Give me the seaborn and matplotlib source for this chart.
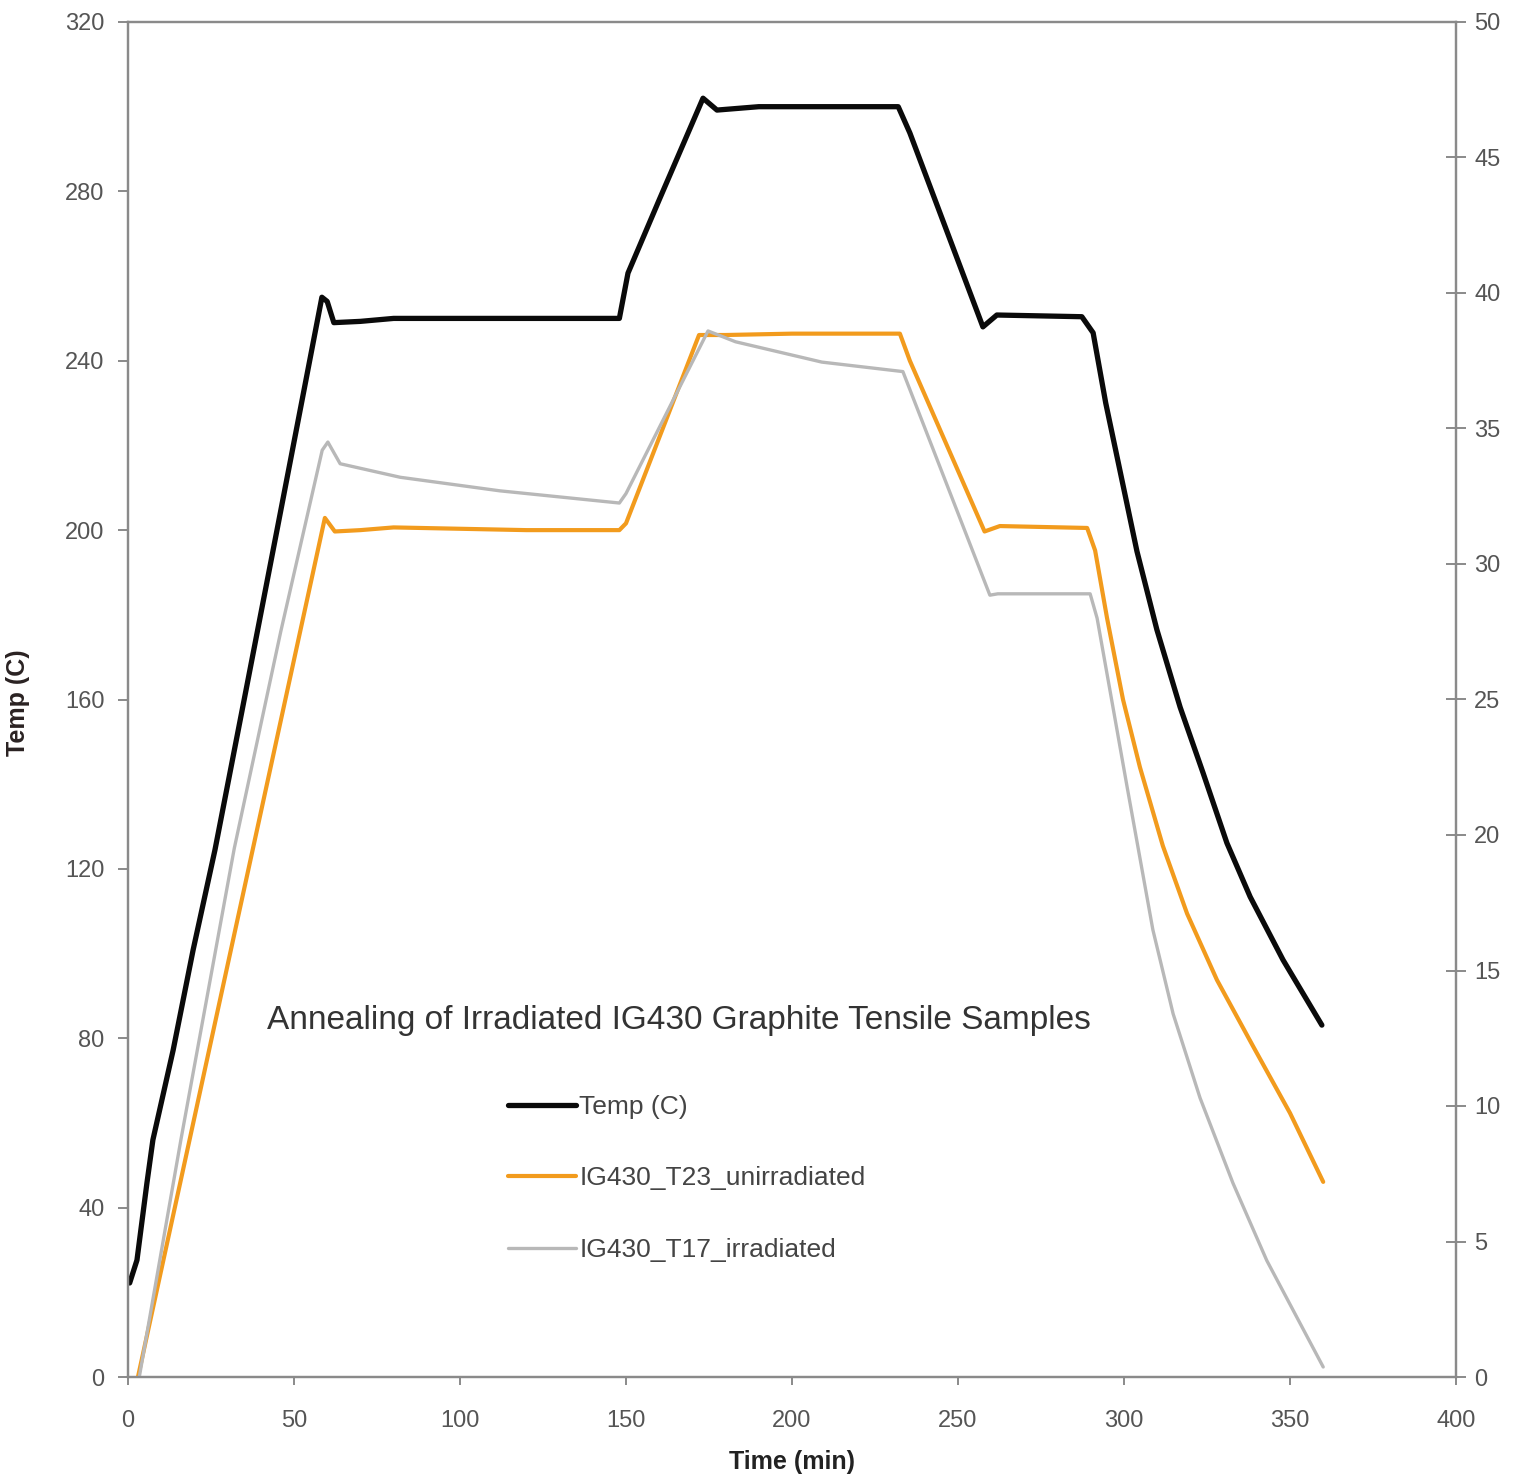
import matplotlib
matplotlib.use("Agg")
import matplotlib.pyplot as plt
import seaborn as sns
import pandas as pd

# Furnace temperature (left axis, deg C)
temp_time = [0.5, 2.7, 5.7, 7.5, 13.6, 19.6, 26.2, 35, 45, 53, 58.4, 60, 62, 70, 80, 100, 120, 148,
             150.6, 160, 173.2, 177.4, 190, 210, 232, 235.5, 257.5, 261.7, 287.3, 290.7, 294.5, 298.8,
             303.9, 309.9, 316.9, 323.8, 331, 338, 347.9, 359.6]
temp_vals = [22.2, 27.6, 45.8, 56, 77.2, 100.8, 124.5, 160, 200.5, 233, 255, 254, 249, 249.3, 250, 250, 250, 250,
             260.7, 278, 302, 299.2, 300, 300, 300, 293.8, 248, 250.8, 250.4, 246.6, 230, 214,
             195, 176.5, 158.2, 142.7, 126.1, 113.4, 98.5, 83.1]

# Unirradiated sample T23 (right axis)
t23_time = [3, 59.3, 62.3, 70, 80, 100, 120, 148, 150, 172, 180, 200, 232.5, 235.5, 258, 262.6, 288.9,
            291.3, 294.9, 299.7, 304.8, 311.7, 319, 328, 338.9, 350, 360]
t23_vals = [0, 31.7, 31.2, 31.25, 31.35, 31.3, 31.25, 31.25, 31.5, 38.45, 38.45, 38.5, 38.5, 37.5, 31.2, 31.4, 31.33,
            30.5, 28.0, 25.0, 22.5, 19.6, 17.1, 14.65, 12.2, 9.74, 7.2]

# Irradiated sample T17 (right axis)
t17_time = [3.4, 16, 32, 46, 58.5, 60.2, 63.9, 82, 112, 148, 150, 174.7, 183, 209, 233.4, 259.6, 262, 289.8,
            291.9, 296.7, 300.9, 304.2, 308.7, 314.8, 322.9, 332.8, 343, 360]
t17_vals = [0, 8.8, 19.5, 27.5, 34.2, 34.5, 33.7, 33.2, 32.7, 32.25, 32.6, 38.6, 38.2, 37.45, 37.1, 28.85, 28.9, 28.9,
            28.0, 24.7, 21.8, 19.56, 16.5, 13.4, 10.3, 7.16, 4.3, 0.37]

x_ticks = list(range(0, 401, 50))
left_ticks = list(range(0, 321, 40))
right_ticks = list(range(0, 51, 5))

sns.set_style("white")
plt.rcParams["font.family"] = ["Liberation Sans", "DejaVu Sans"]

W, H = 1514, 1478
fig = plt.figure(figsize=(W / 100, H / 100), dpi=100)
ax = fig.add_axes([128 / W, 1 - 1377 / H, (1456 - 128) / W, (1377 - 22) / H])
ax2 = ax.twinx()

temp_df = pd.DataFrame({"t": temp_time, "v": temp_vals})
t23_df = pd.DataFrame({"t": t23_time, "v": t23_vals})
t17_df = pd.DataFrame({"t": t17_time, "v": t17_vals})

sns.lineplot(data=temp_df, x="t", y="v", ax=ax, color="#0a0a0a", lw=3.8,
             label="Temp (C)", sort=False, legend=False)
sns.lineplot(data=t23_df, x="t", y="v", ax=ax2, color="#F29B1D", lw=3.0,
             label="IG430_T23_unirradiated", sort=False, legend=False)
sns.lineplot(data=t17_df, x="t", y="v", ax=ax2, color="#B8B8B8", lw=2.4,
             label="IG430_T17_irradiated", sort=False, legend=False)

ax.set_xlim(0, 400)
ax.set_ylim(0, 320)
ax2.set_ylim(0, 50)
ax.set_xticks(x_ticks)
ax.set_yticks(left_ticks)
ax2.set_yticks(right_ticks)

spine_col = "#8a8a8a"
for a in (ax, ax2):
    for s in a.spines.values():
        s.set_color(spine_col)
        s.set_linewidth(1.6)
        s.set_visible(True)

ax.tick_params(axis="y", direction="out", length=7, width=1.4, color=spine_col,
               labelsize=17, labelcolor="#555555", pad=10, left=True)
ax.tick_params(axis="x", direction="out", length=6, width=1.4, color=spine_col,
               labelsize=17, labelcolor="#555555", pad=18, bottom=True)
ax2.tick_params(axis="y", direction="inout", length=14, width=1.4, color=spine_col,
                labelsize=17, labelcolor="#555555", pad=6, right=True)

ax.set_xlabel("Time (min)", fontsize=18, fontweight="bold", color="#222222")
ax.xaxis.set_label_coords(0.5, -(1450 - 1377) / 1355)
ax.set_ylabel("Temp (C)", fontsize=18, fontweight="bold", color="#2a2222")
ax.yaxis.set_label_coords(-(128 - 30) / 1328, 0.498)
ax2.set_ylabel("")
ax.grid(False)
ax2.grid(False)

fig.text(679 / W, 1 - 1020 / H, "Annealing of Irradiated IG430 Graphite Tensile Samples",
         ha="center", va="center", fontsize=24, color="#333333")

handles = ax.get_lines()[:1] + ax2.get_lines()[:2]
labels = ["Temp (C)", "IG430_T23_unirradiated", "IG430_T17_irradiated"]
fig.legend(handles, labels, loc="upper left", bbox_to_anchor=(508 / W, 1 - 1095 / H),
           frameon=False, fontsize=19, handlelength=2.58, handletextpad=0.12,
           labelspacing=1.8, borderpad=0, borderaxespad=0, labelcolor="#444444")

fig.savefig("out.png", dpi=100)
